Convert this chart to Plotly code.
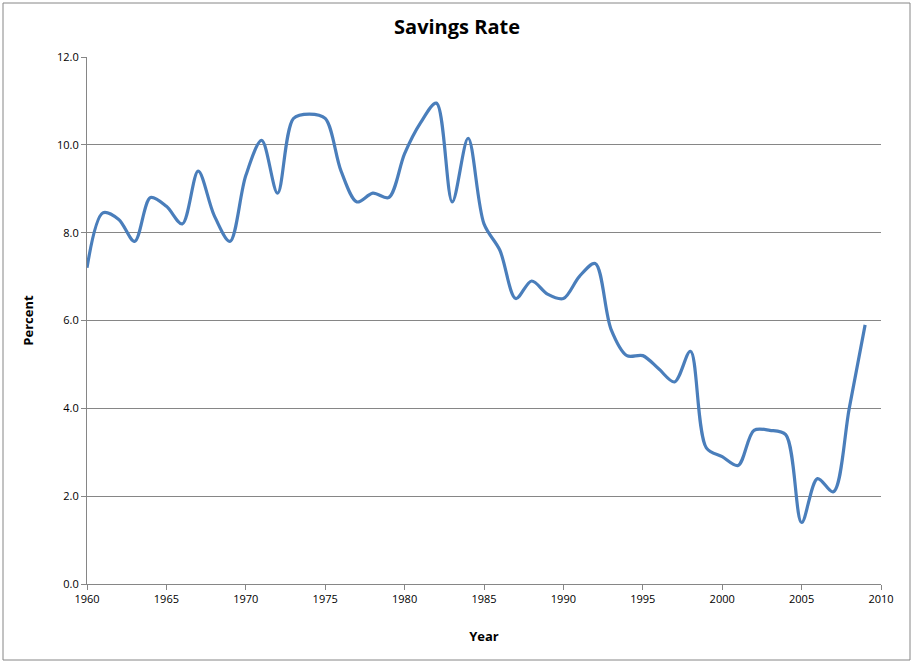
import plotly.graph_objects as go

years = list(range(1960, 2010))
savings_rate = [7.2, 8.45, 8.3, 7.8, 8.8, 8.6, 8.2, 9.4, 8.4, 7.8,
                9.3, 10.1, 8.9, 10.6, 10.7, 10.6, 9.4, 8.7, 8.9, 8.8,
                9.8, 10.5, 10.95, 8.7, 10.15, 8.2, 7.6, 6.5, 6.9, 6.6,
                6.5, 7.0, 7.3, 5.8, 5.2, 5.2, 4.9, 4.6, 5.3, 3.1,
                2.9, 2.7, 3.5, 3.5, 3.4, 1.4, 2.4, 2.1, 4.0, 5.9]

FONT = "Liberation Sans Narrow, Arial Narrow, Open Sans, sans-serif"

fig = go.Figure(go.Scatter(
    x=years, y=savings_rate, mode="lines",
    line=dict(color="#4A7EBB", width=3.2, shape="spline", smoothing=0.9),
    hoverinfo="x+y", showlegend=False))

fig.update_layout(
    width=914, height=664,
    margin=dict(l=87, r=33, t=57, b=80),
    paper_bgcolor="white", plot_bgcolor="white",
    font=dict(family=FONT, color="#000000", size=11),
    title=dict(text="<b>Savings Rate</b>", x=0.5, xanchor="center",
               y=1 - 27 / 664, yanchor="middle",
               font=dict(family=FONT, size=20, color="#000000")),
    xaxis=dict(range=[1960, 2010], tick0=1960, dtick=5, showgrid=False,
               showline=True, linecolor="#868686", linewidth=1,
               ticks="outside", ticklen=5, tickcolor="#868686",
               tickfont=dict(size=11),
               title=dict(text="<b>Year</b>", font=dict(size=13), standoff=26),
               zeroline=False),
    yaxis=dict(range=[0, 12], tick0=0, dtick=2, tickformat=".1f",
               showgrid=True, gridcolor="#868686", gridwidth=1,
               showline=True, linecolor="#868686", linewidth=1,
               ticks="outside", ticklen=5, tickcolor="#868686",
               tickfont=dict(size=11),
               title=dict(text="<b>Percent</b>", font=dict(size=13), standoff=20),
               zeroline=False),
    shapes=[dict(type="rect", xref="paper", yref="paper",
                 x0=-84 / 794, x1=823 / 794, y0=-76 / 527, y1=581 / 527,
                 line=dict(color="#868686", width=1), fillcolor="rgba(0,0,0,0)",
                 layer="below")],
)

fig.write_html("out.html", config={"displayModeBar": False},
               post_script="document.body.style.margin='0';document.body.style.overflow='hidden';")
